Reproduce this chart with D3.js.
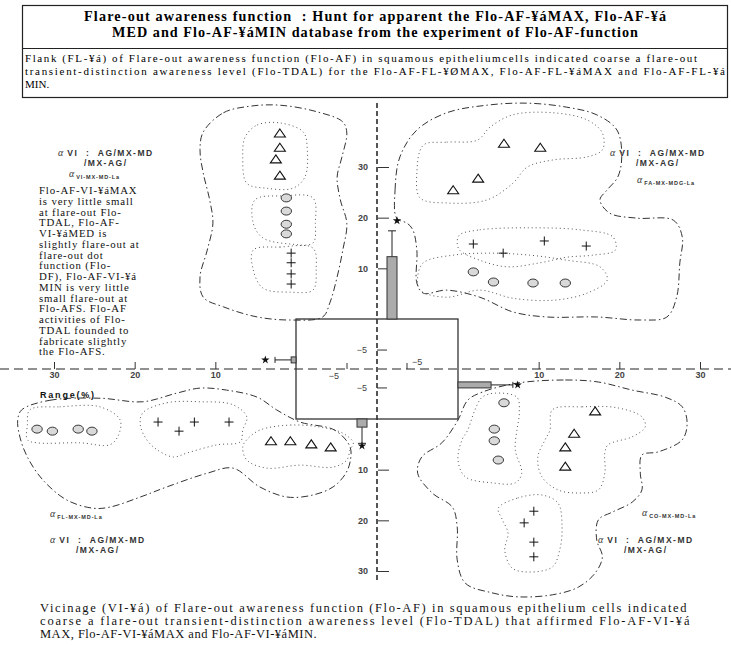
<!DOCTYPE html>
<html>
<head>
<meta charset="utf-8">
<script src="https://cdn.jsdelivr.net/npm/d3@7"></script>
<style>
  body { margin: 0; background: #fff; }
  svg { display: block; }
  text { white-space: pre; }
</style>
</head>
<body>
<div id="chart"></div>
<script>
// ---- values (quadrant units, %) ----
const axisTicks = [10, 20, 30];
const innerTicks = [-5, 5];
const innerTickLabels = ["\u22125", "\u22125"];

// central bars: direction, length, whisker end, star
const barDirs = ["up", "right", "left", "down"];
const barValues = [12.3, 4.1, 0.6, 1.6];
const barErrors = [17.4, 6.8, 2.6, 4.8];
const barStars = [19.4, 7.4, 3.8, 5.3];
const barOffsets = [2.5, -4.2, 2.4, -2.5];

// top-left quadrant
const tlTriangles = [[2.0, 36.7], [2.0, 33.9], [2.5, 31.6], [2.0, 28.4]];
const tlCircles = [[1.2, 23.9], [1.2, 21.3], [1.2, 18.7], [1.2, 16.8]];
const tlPluses = [[0.6, 13.0], [0.6, 11.1], [0.6, 8.9], [0.6, 6.9]];
// top-right quadrant
const trTriangles = [[5.7, 34.7], [10.2, 33.9], [2.5, 27.8], [-0.6, 25.5]];
const trPluses = [[1.9, 14.8], [5.6, 13.0], [10.7, 15.4], [15.9, 14.4]];
const trCircles = [[1.9, 9.3], [4.4, 7.3], [9.3, 7.1], [13.3, 7.1]];
// bottom-left quadrant
const blCircles = [[32.1, 2.0], [30.2, 2.4], [27.0, 2.0], [25.3, 2.4]];
const blPluses = [[17.1, 0.6], [14.5, 2.4], [12.6, 0.6], [8.3, 0.6]];
const blTriangles = [[3.1, 4.3], [0.7, 4.3], [-1.9, 4.9], [-4.3, 5.5]];
// bottom-right quadrant
const brCircles = [[5.7, -3.2], [4.5, 2.0], [4.5, 4.3], [5.0, 8.1]];
const brTriangles = [[17.0, -1.6], [14.4, 2.8], [13.3, 5.5], [13.3, 9.3]];
const brPluses = [[9.4, 18.2], [8.2, 20.5], [9.4, 24.3], [9.4, 27.2]];

// range outlines (dash-dot) and group outlines (dotted)
const tlRange = [[11.5,36.9],[9.0,40.7],[5.7,42.0],[2.0,42.2],[-2.6,40.9],[-5.8,38.9],[-6.3,36.7],[-5.7,32.0],[-5.1,28.0],[-5.5,23.5],[-6.3,18.9],[-5.8,13.6],[-5.1,8.3],[-4.2,3.2],[-3.3,0.4],[0.7,-0.2],[4.8,0.4],[9.0,2.4],[11.5,4.3],[11.9,8.3],[11.0,13.6],[10.3,18.9],[10.7,23.5],[11.5,28.8],[11.9,33.4]];
const tlTriGroup = [[6.3,35.9],[4.8,38.3],[2.0,38.7],[-0.9,36.9],[-1.4,33.4],[-1.1,28.0],[0.4,25.8],[3.6,25.8],[6.1,26.8],[6.6,32.0]];
const tlCirGroup = [[5.1,23.5],[1.6,24.3],[-2.1,23.9],[-2.4,18.9],[-2.1,15.0],[0.7,14.8],[4.1,16.0],[5.3,18.9]];
const tlPluGroup = [[5.3,13.6],[2.0,14.2],[-2.1,14.0],[-2.5,9.7],[-2.1,5.7],[0.7,5.3],[4.1,6.1],[5.3,9.7]];

const trRange = [[-7.6,19.9],[-7.8,25.5],[-7.2,32.0],[-5.1,37.3],[-1.4,40.7],[3.6,42.2],[8.6,42.6],[13.5,41.8],[17.2,40.3],[19.7,37.3],[20.3,32.0],[19.8,28.0],[18.5,25.5],[17.6,23.5],[18.8,20.9],[22.2,19.9],[26.7,19.5],[27.8,16.2],[27.5,11.1],[27.1,4.3],[25.9,0.4],[22.6,-0.2],[17.2,0.4],[11.0,0.4],[6.8,1.4],[2.7,4.3],[-1.4,5.7],[-4.3,5.1],[-5.1,7.1],[-5.1,13.6],[-5.6,17.6],[-6.3,18.9]];
const trTriGroup = [[-4.3,34.3],[-1.4,34.9],[2.4,35.3],[4.0,37.9],[6.8,40.3],[11.8,40.7],[16.0,39.3],[17.9,36.7],[17.9,33.4],[16.0,32.0],[11.8,31.4],[8.6,30.0],[6.8,26.8],[3.6,23.5],[-1.4,22.9],[-4.7,23.9],[-5.1,28.8]];
const trPluGroup = [[0.2,16.6],[2.7,17.6],[8.9,18.0],[15.1,17.6],[19.2,16.2],[19.5,13.6],[16.7,12.6],[13.5,12.2],[10.2,11.1],[6.1,10.3],[2.7,11.6],[0.2,13.6],[-0.1,15.2]];
const trCirGroup = [[-4.3,11.1],[-0.6,12.6],[4.0,13.0],[8.9,12.6],[13.5,11.6],[17.6,10.3],[18.5,7.7],[16.0,5.1],[11.8,3.7],[6.8,4.1],[2.7,5.7],[-1.4,4.3],[-4.7,5.7],[-5.0,8.3]];

const blRange = [[34.0,-1.8],[30.5,-3.7],[24.3,-4.1],[19.0,-3.4],[14.8,-5.1],[11.9,-6.1],[8.6,-5.7],[4.8,-4.3],[2.4,-1.8],[-0.5,0.6],[-4.8,2.2],[-6.7,5.5],[-6.7,8.5],[-6.1,10.9],[-4.6,13.4],[-2.1,15.0],[1.1,15.4],[4.5,13.4],[7.8,9.7],[11.0,10.7],[16.0,13.4],[19.3,15.4],[23.1,17.4],[25.2,17.6],[28.4,16.0],[31.4,12.0],[33.3,7.5],[34.2,3.7],[34.5,0.2]];
const blCirGroup = [[33.0,-1.8],[29.3,-2.4],[24.3,-2.4],[21.8,0.2],[22.1,3.5],[23.1,5.1],[26.8,4.7],[32.1,4.7],[33.3,4.1],[33.3,1.2]];
const blPluGroup = [[19.0,-1.2],[16.0,-3.2],[11.9,-3.4],[7.8,-2.8],[6.1,-0.4],[6.6,2.2],[6.9,4.5],[9.8,5.1],[13.5,6.7],[15.2,7.5],[17.2,6.1],[18.5,4.1],[19.3,1.2]];
const blTriGroup = [[4.5,2.2],[0.7,1.2],[-3.0,1.6],[-5.8,2.8],[-7.1,4.7],[-6.7,6.1],[-6.3,8.1],[-4.6,9.5],[-0.5,9.1],[3.6,9.7],[6.1,8.1],[6.6,5.5],[6.1,4.1]];

const brRange = [[7.4,-7.1],[13.3,-7.7],[17.4,-7.3],[21.6,-5.7],[25.7,-4.3],[27.8,-2.4],[28.4,0.8],[27.8,4.1],[24.8,6.5],[22.8,7.1],[22.6,10.7],[22.8,14.0],[21.6,16.4],[19.1,18.4],[17.4,19.9],[17.2,23.9],[17.9,27.2],[17.0,30.4],[14.9,33.2],[11.7,34.7],[7.4,35.1],[4.2,34.3],[0.9,32.4],[-0.1,27.8],[-0.1,21.3],[-0.7,17.4],[-3.2,14.6],[-5.0,10.7],[-4.5,7.5],[-2.0,4.7],[0,0.2],[1.2,-3.7],[3.0,-5.3]];
const brCirGroup = [[3.0,-4.3],[4.6,-5.1],[7.3,-4.3],[7.6,-1.2],[7.3,2.2],[7.1,6.1],[7.9,10.7],[7.1,12.6],[4.2,12.6],[0.9,11.4],[0,8.1],[0.5,4.1],[1.2,2.2],[2.1,-1.8]];
const brTriGroup = [[11.7,-1.8],[15.4,-2.4],[19.8,-2.2],[22.8,-0.4],[23.2,1.6],[21.6,3.5],[18.6,5.1],[18.2,6.7],[18.2,10.7],[17.4,14.0],[14.9,14.6],[12.4,14.0],[10.4,11.4],[9.9,7.5],[10.8,4.1],[11.4,2.2]];
const brPluGroup = [[5.0,17.6],[7.4,15.6],[10.4,15.0],[12.4,16.6],[12.9,21.3],[12.6,25.9],[11.7,29.2],[8.7,30.2],[6.7,29.4],[5.8,25.9],[6.2,22.5],[5.5,19.9]];

// texts
const titleLines = [
  "Flare-out awareness function  : Hunt for apparent the Flo-AF-\u00a5\u00e1MAX, Flo-AF-\u00a5\u00e1",
  "MED and Flo-AF-\u00a5\u00e1MIN database from the experiment of Flo-AF-function"
];
const noteLines = [
  "Flank (FL-\u00a5\u00e1) of Flare-out awareness function (Flo-AF) in squamous epitheliumcells indicated coarse a flare-out",
  "transient-distinction awareness level (Flo-TDAL) for the Flo-AF-FL-\u00a5\u00d8MAX, Flo-AF-FL-\u00a5\u00e1MAX and Flo-AF-FL-\u00a5\u00e1",
  "MIN."
];
const sideLines = [
  "Flo-AF-VI-\u00a5\u00e1MAX", "is very little small", "at flare-out Flo-", "TDAL, Flo-AF-",
  "VI-\u00a5\u00e1MED is", "slightly flare-out at", "flare-out dot", "function (Flo-",
  "DF), Flo-AF-VI-\u00a5\u00e1", "MIN is very little", "small flare-out at", "Flo-AFS. Flo-AF",
  "activities of Flo-", "TDAL founded to", "fabricate slightly", "the Flo-AFS."
];
const captionLines = [
  "Vicinage (VI-\u00a5\u00e1) of Flare-out awareness function (Flo-AF) in squamous epithelium cells indicated",
  "coarse a flare-out transient-distinction awareness level (Flo-TDAL) that affirmed Flo-AF-VI-\u00a5\u00e1",
  "MAX, Flo-AF-VI-\u00a5\u00e1MAX and Flo-AF-VI-\u00a5\u00e1MIN."
];
const subLabels = ["VI-MX-MD-La", "FA-MX-MDG-La", "FL-MX-MD-La", "CO-MX-MD-La"];

// ---- layout ----
const width = 731, height = 646;
const box = { left: 296, right: 458, top: 319, bottom: 419 };
const serif = "'Liberation Serif', 'Times New Roman', serif";
const sans = "'Liberation Sans', Arial, sans-serif";

const svg = d3.select("#chart").append("svg")
  .attr("width", width).attr("height", height);

// one scale per quadrant, each starting at the edge of the central box
const xLeft = d3.scaleLinear().domain([0, 30]).range([box.left, 54]);
const xRight = d3.scaleLinear().domain([0, 30]).range([box.right, 700]);
const yTop = d3.scaleLinear().domain([0, 30]).range([box.top, 167]);
const yBottom = d3.scaleLinear().domain([0, 30]).range([box.bottom, 571]);
// scale inside the central box
const innerX = d3.scaleLinear().domain([-13.5, 13.5]).range([box.left, box.right]);
const innerY = d3.scaleLinear().domain([-13.2, 13.2]).range([box.bottom, box.top]);
const cx = innerX(0), cy = innerY(0);

const quads = {
  tl: [xLeft, yTop], tr: [xRight, yTop], bl: [xLeft, yBottom], br: [xRight, yBottom]
};

// ---- header box ----
const head = svg.append("g");
head.append("rect").attr("x", 22.5).attr("y", 5.5).attr("width", 705).attr("height", 92)
  .attr("fill", "none").attr("stroke", "#222").attr("stroke-width", 1.2);
head.append("line").attr("x1", 22.5).attr("x2", 727.5).attr("y1", 48.5).attr("y2", 48.5)
  .attr("stroke", "#222").attr("stroke-width", 1.2);
head.selectAll(".title").data(titleLines).join("text")
  .attr("class", "title")
  .attr("x", 375).attr("y", (d, i) => 21 + i * 16)
  .attr("text-anchor", "middle")
  .attr("textLength", (d, i) => [582, 526][i]).attr("lengthAdjust", "spacing")
  .style("font-family", serif).style("font-weight", "bold").style("font-size", "14.2px")
  .text(d => d);
head.selectAll(".note").data(noteLines).join("text")
  .attr("class", "note")
  .attr("x", 25).attr("y", (d, i) => 61.5 + i * 13)
  .attr("textLength", (d, i) => [672, 700, null][i]).attr("lengthAdjust", "spacing")
  .style("font-family", serif).style("font-size", "11px")
  .text(d => d);

// ---- outlines ----
const blob = (pts, q) => d3.line()
  .x(d => quads[q][0](d[0])).y(d => quads[q][1](d[1]))
  .curve(d3.curveCatmullRomClosed.alpha(0.5))(pts);

const ranges = [[tlRange, "tl"], [trRange, "tr"], [blRange, "bl"], [brRange, "br"]];
const groups = [
  [tlTriGroup, "tl"], [tlCirGroup, "tl"], [tlPluGroup, "tl"],
  [trTriGroup, "tr"], [trPluGroup, "tr"], [trCirGroup, "tr"],
  [blCirGroup, "bl"], [blPluGroup, "bl"], [blTriGroup, "bl"],
  [brCirGroup, "br"], [brTriGroup, "br"], [brPluGroup, "br"]
];
svg.append("g").selectAll("path").data(ranges).join("path")
  .attr("d", d => blob(d[0], d[1]))
  .attr("fill", "none").attr("stroke", "#333").attr("stroke-width", 1)
  .attr("stroke-dasharray", "7,3,1.5,3");
svg.append("g").selectAll("path").data(groups).join("path")
  .attr("d", d => blob(d[0], d[1]))
  .attr("fill", "none").attr("stroke", "#555").attr("stroke-width", 1)
  .attr("stroke-dasharray", "1,3");

// ---- cross axes ----
svg.append("line").attr("x1", 0).attr("x2", width).attr("y1", cy).attr("y2", cy)
  .attr("stroke", "#222").attr("stroke-width", 1).attr("stroke-dasharray", "9,5");
svg.append("line").attr("x1", cx).attr("x2", cx).attr("y1", 103).attr("y2", 583)
  .attr("stroke", "#444").attr("stroke-width", 1.8).attr("stroke-dasharray", "5,3");

const tickFont = g => g.selectAll("text")
  .style("font-family", sans).style("font-weight", "bold")
  .style("font-size", "9px").attr("fill", "#444");

// vertical outer axes (ticks to the right, labels to the left)
[yTop, yBottom].forEach(s => {
  const g = svg.append("g").attr("transform", `translate(${cx + 1},0)`)
    .call(d3.axisRight(s).tickValues(axisTicks).tickSize(11).tickSizeOuter(0));
  g.select(".domain").remove();
  g.selectAll("line").attr("stroke", "#333");
  g.selectAll("text").attr("x", -10).attr("text-anchor", "end");
  tickFont(g);
});
// horizontal outer axes (ticks up, labels below)
[xLeft, xRight].forEach(s => {
  const g = svg.append("g").attr("transform", `translate(0,${cy})`)
    .call(d3.axisTop(s).tickValues(axisTicks).tickSize(7).tickSizeOuter(0));
  g.select(".domain").remove();
  g.selectAll("line").attr("stroke", "#333");
  g.selectAll("text").attr("y", 3).attr("dy", "0.71em");
  tickFont(g);
});

// ---- central box ----
svg.append("rect")
  .attr("x", box.left).attr("y", box.top)
  .attr("width", box.right - box.left).attr("height", box.bottom - box.top)
  .attr("fill", "none").attr("stroke", "#333").attr("stroke-width", 1.3);

const inner = svg.append("g").attr("fill", "#444")
  .style("font-family", sans).style("font-size", "9px");
innerTicks.forEach((t, i) => {
  const x = innerX(t), y = innerY(t);
  inner.append("line").attr("x1", x).attr("x2", x).attr("y1", cy).attr("y2", cy - 6)
    .attr("stroke", "#333");
  inner.append("line").attr("x1", cx).attr("x2", cx + 10).attr("y1", y).attr("y2", y)
    .attr("stroke", "#333");
  inner.append("text").attr("x", cx - 10).attr("y", y).attr("dy", "0.35em")
    .attr("text-anchor", "end").text(innerTickLabels[i]);
  inner.append("text")
    .attr("x", i === 0 ? x - 8 : x + 5).attr("y", i === 0 ? cy + 10 : cy - 4)
    .attr("text-anchor", i === 0 ? "end" : "start").text(innerTickLabels[i]);
});

// ---- bars with whiskers and stars ----
const barG = svg.append("g");
const star = d3.symbol().type(d3.symbolStar).size(22);
barDirs.forEach((dir, i) => {
  const v = barValues[i], e = barErrors[i], s = barStars[i];
  if (dir === "up" || dir === "down") {
    const ys = dir === "up" ? yTop : yBottom;
    const x = innerX(barOffsets[i]);
    const y0 = ys(0), y1 = ys(v), ye = ys(e);
    barG.append("line").attr("x1", x).attr("x2", x).attr("y1", y1).attr("y2", ye).attr("stroke", "#222");
    barG.append("line").attr("x1", x - 4).attr("x2", x + 4).attr("y1", ye).attr("y2", ye).attr("stroke", "#222");
    barG.append("rect").attr("x", x - 5).attr("y", Math.min(y0, y1)).attr("width", 10)
      .attr("height", Math.abs(y1 - y0)).attr("fill", "#ababab").attr("stroke", "#333");
    barG.append("path").attr("d", star)
      .attr("transform", `translate(${x + (dir === "up" ? 5 : 0)},${ys(s)})`).attr("fill", "#111");
  } else {
    const xs = dir === "right" ? xRight : xLeft;
    const y = innerY(barOffsets[i]);
    const x0 = xs(0), x1 = xs(v), xe = xs(e);
    barG.append("line").attr("x1", x1).attr("x2", xe).attr("y1", y).attr("y2", y).attr("stroke", "#222");
    barG.append("line").attr("x1", xe).attr("x2", xe).attr("y1", y - 3).attr("y2", y + 3).attr("stroke", "#222");
    barG.append("rect").attr("x", Math.min(x0, x1)).attr("y", y - 3).attr("width", Math.abs(x1 - x0))
      .attr("height", 6).attr("fill", "#ababab").attr("stroke", "#333");
    barG.append("path").attr("d", star).attr("transform", `translate(${xs(s)},${y})`).attr("fill", "#111");
  }
});

// ---- markers ----
const marks = svg.append("g");
const triangleSets = [[tlTriangles, "tl"], [trTriangles, "tr"], [blTriangles, "bl"], [brTriangles, "br"]];
const circleSets = [[tlCircles, "tl"], [trCircles, "tr"], [blCircles, "bl"], [brCircles, "br"]];
const plusSets = [[tlPluses, "tl"], [trPluses, "tr"], [blPluses, "bl"], [brPluses, "br"]];

triangleSets.forEach(([pts, q]) => {
  marks.selectAll(null).data(pts).join("path")
    .attr("transform", d => `translate(${quads[q][0](d[0])},${quads[q][1](d[1])})`)
    .attr("d", "M0,-4L5.5,4L-5.5,4Z")
    .attr("fill", "#fff").attr("stroke", "#111").attr("stroke-width", 1.1);
});
circleSets.forEach(([pts, q]) => {
  marks.selectAll(null).data(pts).join("ellipse")
    .attr("cx", d => quads[q][0](d[0])).attr("cy", d => quads[q][1](d[1]))
    .attr("rx", 5.2).attr("ry", 4)
    .attr("fill", "#d9d9d9").attr("stroke", "#222").attr("stroke-width", 0.9);
});
plusSets.forEach(([pts, q]) => {
  marks.selectAll(null).data(pts).join("path")
    .attr("transform", d => `translate(${quads[q][0](d[0])},${quads[q][1](d[1])})`)
    .attr("d", "M-4.5,0H4.5M0,-4.5V4.5")
    .attr("stroke", "#111").attr("stroke-width", 1);
});

// ---- annotations ----
const ann = svg.append("g").attr("fill", "#333");
function alphaRange(x, y) {
  const t = ann.append("text").attr("x", x).attr("y", y)
    .style("font-family", sans).style("font-weight", "bold").style("font-size", "8.5px")
    .style("letter-spacing", "1.5px");
  t.append("tspan").style("font-family", serif).style("font-style", "italic")
    .style("font-size", "10px").style("font-weight", "normal").style("letter-spacing", "0px").text("\u03b1");
  t.append("tspan").attr("dx", 4).text("VI  :  AG/MX-MD");
  ann.append("text").attr("x", x + 26).attr("y", y + 9.5)
    .style("font-family", sans).style("font-weight", "bold").style("font-size", "8.5px")
    .style("letter-spacing", "1.5px").text("/MX-AG/");
}
function alphaSub(x, y, sub) {
  const t = ann.append("text").attr("x", x).attr("y", y);
  t.append("tspan").style("font-family", serif).style("font-style", "italic")
    .style("font-size", "10px").text("\u03b1");
  t.append("tspan").attr("dx", 2).attr("dy", 2).style("font-family", sans).style("font-weight", "bold")
    .style("font-size", "5.5px").style("letter-spacing", "0.9px").text(sub);
}
alphaRange(58, 156);
alphaSub(69, 177, subLabels[0]);
alphaRange(610, 156);
alphaSub(637, 183, subLabels[1]);
alphaSub(50, 517, subLabels[2]);
alphaRange(50, 543);
alphaSub(642, 516, subLabels[3]);
alphaRange(598, 543);

ann.append("text").attr("x", 40).attr("y", 397.5)
  .style("font-family", sans).style("font-weight", "900").style("font-size", "9px")
  .style("letter-spacing", "1.8px").attr("fill", "#111").text("Range(%)");

svg.append("g").selectAll("text").data(sideLines).join("text")
  .attr("x", 39).attr("y", (d, i) => 194 + i * 10.75)
  .style("font-family", serif).style("font-size", "10.8px")
  .style("letter-spacing", "0.85px").attr("fill", "#111")
  .text(d => d);

svg.append("g").selectAll("text").data(captionLines).join("text")
  .attr("x", 40).attr("y", (d, i) => 612 + i * 13)
  .attr("textLength", (d, i) => [647, 650, null][i]).attr("lengthAdjust", "spacing")
  .style("font-family", serif).style("font-size", "12.5px").style("letter-spacing", "0.5px")
  .attr("fill", "#111")
  .text(d => d);
</script>
</body>
</html>
